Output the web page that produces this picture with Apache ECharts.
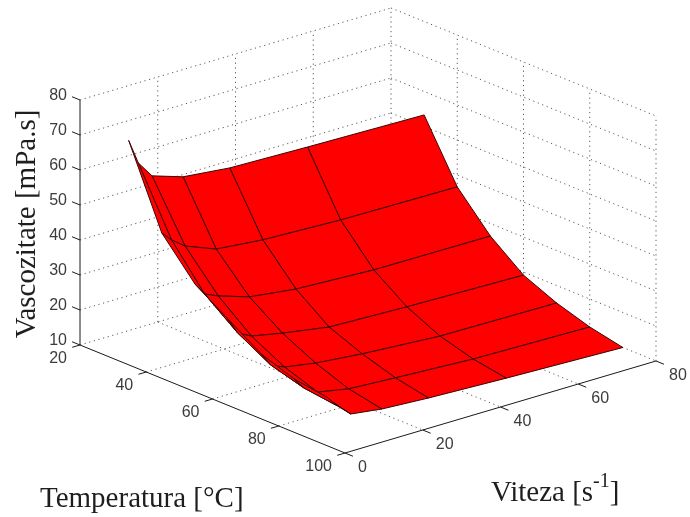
<!DOCTYPE html>
<html><head><meta charset="utf-8">
<style>html,body{margin:0;padding:0;background:#fff}#c{width:690px;height:517px}</style>
<script src="https://cdn.jsdelivr.net/npm/echarts@6/dist/echarts.min.js"></script>
</head><body><div id="c"></div>
<script>
// ---- data ----
const temperatures = [30, 40, 50, 60, 70, 80, 90];
const speeds = [4, 6.5, 10, 18, 30, 50, 80];
const viscT30 = [71, 63.7, 58.9, 56, 54.6, 54, 53.3];
const viscT40 = [48.4, 45.6, 42.7, 39.2, 37.9, 37, 36.6];
const viscT50 = [37.7, 34, 32.3, 29.4, 27.7, 26.6, 26.4];
const viscT60 = [31.5, 26.7, 24.7, 22.9, 20.7, 19.9, 19.1];
const viscT70 = [25.4, 21.4, 19.7, 18.2, 16.9, 15.4, 15];
const viscT80 = [22.1, 18.7, 16.4, 14.7, 13.9, 12.7, 12];
const viscT90 = [20.7, 17.5, 14, 12.8, 12, 11.1, 10];
const viscosity = [viscT30, viscT40, viscT50, viscT60, viscT70, viscT80, viscT90];
const tempTicks = [20, 40, 60, 80, 100];
const speedTicks = [0, 20, 40, 60, 80];
const viscTicks = [10, 20, 30, 40, 50, 60, 70, 80];

// ---- fixed MATLAB-style orthographic view ----
const T0 = 20, T1 = 100, V0 = 0, V1 = 80, Z0 = 10, Z1 = 80;
const origin = [80, 345];
const perT = [265 / 80, 108 / 80], perV = [311 / 80, -92 / 80], perZ = [0, -3.5];
function project(t, v, z) {
  return [
    origin[0] + (t - T0) * perT[0] + v * perV[0],
    origin[1] + (t - T0) * perT[1] + v * perV[1] + (z - Z0) * perZ[1]
  ];
}

// dotted grid segments, solid axis lines, ticks: [t1,v1,z1,t2,v2,z2]
const dotted = [], solid = [];
viscTicks.forEach(z => {
  dotted.push([T0, V0, z, T0, V1, z]);
  dotted.push([T0, V1, z, T1, V1, z]);
});
speedTicks.slice(1).forEach(v => {
  dotted.push([T0, v, Z0, T0, v, Z1]);
  if (v < V1) dotted.push([T0, v, Z0, T1, v, Z0]);
});
tempTicks.slice(1).forEach(t => {
  dotted.push([t, V1, Z0, t, V1, Z1]);
  if (t < T1) dotted.push([t, V0, Z0, t, V1, Z0]);
});
solid.push([T0, V0, Z0, T0, V0, Z1], [T0, V0, Z0, T1, V0, Z0], [T1, V0, Z0, T1, V1, Z0]);
const tickV = 2, tickT = 2.4;
viscTicks.forEach(z => solid.push([T0, V0, z, T0 - tickT, V0, z]));
tempTicks.forEach(t => solid.push([t, V0, Z0, t, V0 - tickV, Z0]));
speedTicks.forEach(v => solid.push([T1, v, Z0, T1 + tickT, v, Z0]));

// surface cells, back to front
const cells = [];
temperatures.slice(0, -1).forEach((_, i) => {
  for (let j = speeds.length - 2; j >= 0; j--) cells.push([i, j]);
});

// tick labels: [text, anchor t, v, z, kind]
const labels = [];
viscTicks.forEach(z => labels.push([String(z), T0, V0, z, 'z']));
tempTicks.forEach(t => labels.push([String(t), t, V0, Z0, 't']));
speedTicks.forEach(v => labels.push([String(v), T1, v, Z0, 'v']));

const segItem = (dash, color) => (p, api) => {
  const d = api.value.bind(api);
  const a = api.coord(project(d(0), d(1), d(2)));
  const b = api.coord(project(d(3), d(4), d(5)));
  return {
    type: 'line',
    shape: { x1: a[0], y1: a[1], x2: b[0], y2: b[1] },
    style: { stroke: color, lineWidth: 1, lineDash: dash }
  };
};

const labelOffset = { z: [-13, -4.5, 'right'], t: [-13, 14, 'right'], v: [13, 15, 'left'] };

const chart = echarts.init(document.getElementById('c'), null, { renderer: 'canvas' });
chart.setOption({
  animation: false,
  backgroundColor: '#ffffff',
  grid: { left: 0, right: 0, top: 0, bottom: 0 },
  xAxis: { type: 'value', min: 0, max: 690, show: false },
  yAxis: { type: 'value', min: 0, max: 517, inverse: true, show: false },
  tooltip: { show: false },
  series: [
    {
      type: 'custom', coordinateSystem: 'cartesian2d', silent: true, z: 1,
      data: dotted, renderItem: segItem([1.2, 3.6], '#5a5a5a')
    },
    {
      type: 'custom', coordinateSystem: 'cartesian2d', silent: true, z: 2,
      data: solid, renderItem: segItem(null, '#1a1a1a')
    },
    {
      type: 'custom', coordinateSystem: 'cartesian2d', silent: true, z: 3,
      data: cells,
      renderItem: (p, api) => {
        const i = api.value(0), j = api.value(1);
        const pts = [[i, j], [i, j + 1], [i + 1, j + 1], [i + 1, j]].map(
          ([a, b]) => api.coord(project(temperatures[a], speeds[b], viscosity[a][b]))
        );
        return {
          type: 'polygon',
          shape: { points: pts },
          style: { fill: '#ff0000', stroke: '#3a0505', lineWidth: 1, lineJoin: 'round' }
        };
      }
    },
    {
      type: 'custom', coordinateSystem: 'cartesian2d', silent: true, z: 4,
      data: labels.map((l, idx) => [idx]),
      renderItem: (p, api) => {
        const l = labels[api.value(0)];
        const c = api.coord(project(l[1], l[2], l[3]));
        const o = labelOffset[l[4]];
        return {
          type: 'text',
          style: {
            text: l[0], x: c[0] + o[0], y: c[1] + o[1],
            align: o[2], verticalAlign: 'middle',
            fill: '#3c3c3c', font: '16px "Liberation Sans", Arial, sans-serif'
          }
        };
      }
    }
  ],
  graphic: [
    {
      type: 'text', x: 27, y: 224, rotation: Math.PI / 2, silent: true,
      style: {
        text: 'Vascozitate [mPa.s]', align: 'center', verticalAlign: 'middle',
        fill: '#1e1e1e', font: '29px "Liberation Serif", "Times New Roman", serif'
      }
    },
    {
      type: 'text', x: 40, y: 499, silent: true,
      style: {
        text: 'Temperatura [°C]', align: 'left', verticalAlign: 'middle',
        fill: '#1e1e1e', font: '29px "Liberation Serif", "Times New Roman", serif'
      }
    },
    {
      type: 'text', x: 491, y: 490, silent: true,
      style: {
        text: '{a|Viteza [s}{b|-1}{a|]}', align: 'left', verticalAlign: 'middle',
        fill: '#1e1e1e',
        rich: {
          a: { fontSize: 29, fontFamily: 'Liberation Serif', lineHeight: 36, fill: '#1e1e1e', verticalAlign: 'bottom' },
          b: { fontSize: 20, fontFamily: 'Liberation Serif', lineHeight: 22, fill: '#1e1e1e', verticalAlign: 'top' }
        }
      }
    }
  ]
});
</script></body></html>
